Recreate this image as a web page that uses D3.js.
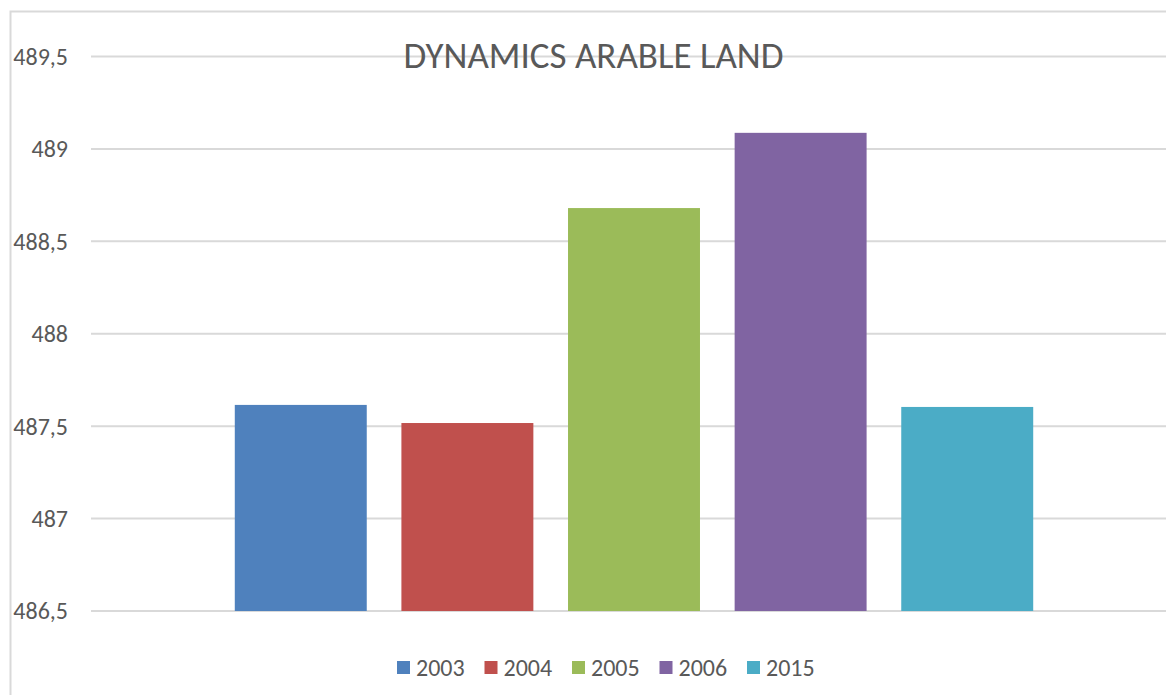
<html>
<head>
  <meta charset="utf-8">
  <title>Dynamics arable land</title>
  <script src="https://d3js.org/d3.v7.min.js"></script>
  <style>
    body { margin: 0; background: #fff; }
    text { font-family: Carlito, "Open Sans", "Liberation Sans", sans-serif; fill: #595959; }
  </style>
</head>
<body>
  <script>

	var years = ['2003', '2004', '2005', '2006', '2015'];
	var values = [487.615, 487.517, 488.68, 489.087, 487.604];
	var colors = ['#4F81BD', '#C0504D', '#9BBB59', '#8064A2', '#4BACC6'];
	var yTicks = [486.5, 487, 487.5, 488, 488.5, 489, 489.5];
	var title = 'DYNAMICS ARABLE LAND';

	var W = 1166, H = 695;

	var svg = d3.select('body')
	            .append('svg')
	              .attr('width', W)
	              .attr('height', H);

	// chart frame (runs off the right and bottom edges)
	svg.append('rect')
	  .attr('x', 10.5)
	  .attr('y', 11.5)
	  .attr('width', W + 20)
	  .attr('height', H + 20)
	  .attr('fill', 'none')
	  .attr('stroke', '#d9d9d9')
	  .attr('stroke-width', 2);

	var y = d3.scaleLinear()
	  .domain([486.5, 489.5])
	  .range([611, 56.5]);

	var x = d3.scaleBand()
	  .domain(years)
	  .range([91, 1177])
	  .paddingInner(0.208)
	  .paddingOuter(0.863);

	var fmt = function(d){ return String(d).replace('.', ','); };

	// gridlines
	svg.append('g')
	  .selectAll('line')
	  .data(yTicks)
	  .enter()
	  .append('line')
	    .attr('x1', 91)
	    .attr('x2', W)
	    .attr('y1', function(d){ return y(d); })
	    .attr('y2', function(d){ return y(d); })
	    .attr('stroke', '#d9d9d9')
	    .attr('stroke-width', 2);

	// tick labels, right aligned
	svg.append('g')
	  .selectAll('text')
	  .data(yTicks)
	  .enter()
	  .append('text')
	    .attr('x', 68)
	    .attr('y', function(d){ return y(d); })
	    .attr('dy', '0.35em')
	    .attr('text-anchor', 'end')
	    .attr('font-size', 24)
	    .text(fmt);

	// bars
	svg.append('g')
	  .selectAll('rect')
	  .data(values)
	  .enter()
	  .append('rect')
	    .attr('x', function(d, i){ return x(years[i]); })
	    .attr('width', x.bandwidth())
	    .attr('y', function(d){ return y(d); })
	    .attr('height', function(d){ return y(486.5) - y(d); })
	    .attr('fill', function(d, i){ return colors[i]; });

	svg.append('text')
	  .attr('x', 593.5)
	  .attr('y', 67.5)
	  .attr('text-anchor', 'middle')
	  .attr('font-size', 37)
	  .text(title);

	// legend
	var legend = svg.append('g')
	  .selectAll('g')
	  .data(years)
	  .enter()
	  .append('g')
	    .attr('transform', function(d, i){ return 'translate(' + (397 + i * 87.5) + ',661)'; });

	legend.append('rect')
	  .attr('width', 13)
	  .attr('height', 13)
	  .attr('fill', function(d, i){ return colors[i]; });

	legend.append('text')
	  .attr('x', 19)
	  .attr('y', 6.5)
	  .attr('dy', '0.35em')
	  .attr('font-size', 24)
	  .text(function(d){ return d; });

  </script>
</body>
</html>
